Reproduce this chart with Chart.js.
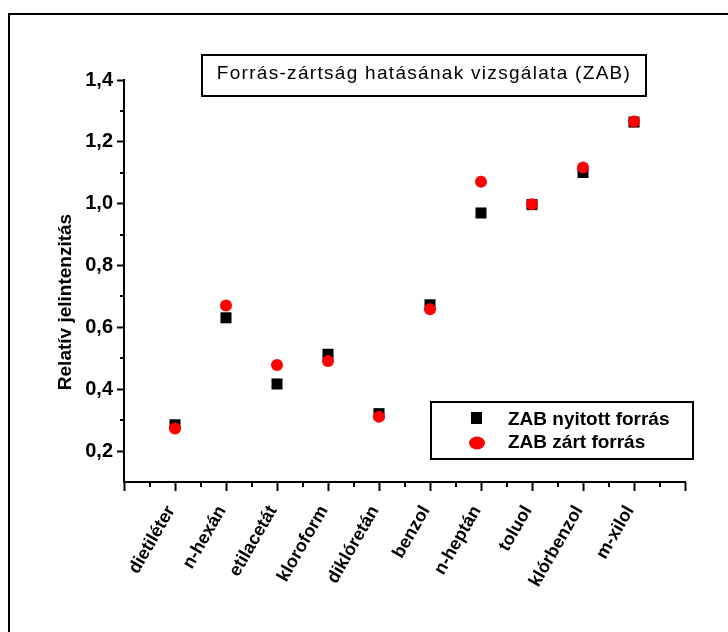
<!DOCTYPE html>
<html>
<head>
<meta charset="utf-8">
<title>Forrás-zártság hatásának vizsgálata (ZAB)</title>
<script src="https://cdn.jsdelivr.net/npm/chart.js@4/dist/chart.umd.min.js"></script>
<style>
  html, body { margin: 0; padding: 0; background: #fff; }
  #zabChart { display: block; }
</style>
</head>
<body>
<canvas id="zabChart" width="728" height="632"></canvas>
<script>
// oldószerek a vízszintes tengelyen
const oldoszerek = ['dietiléter', 'n-hexán', 'etilacetát', 'kloroform', 'diklóretán',
  'benzol', 'n-heptán', 'toluol', 'klórbenzol', 'm-xilol']
// relatív jelintenzitás, nyitott és zárt forrással
const nyitottForras = [0.285, 0.631, 0.417, 0.513, 0.321, 0.673, 0.970, 0.997, 1.101, 1.264]
const zartForras = [0.273, 0.671, 0.478, 0.491, 0.311, 0.659, 1.071, 0.998, 1.117, 1.266]
const sorozatNevek = ['ZAB nyitott forrás', 'ZAB zárt forrás']
const cim = 'Forrás-zártság hatásának vizsgálata (ZAB)'
const yCim = 'Relatív jelintenzitás'
const yMin = 0.1, yMax = 1.4, yLepes = 0.1

Chart.defaults.font.family = '"Liberation Sans", Arial, sans-serif'
Chart.defaults.color = '#000'

const pontok = (ertekek) => ertekek.map((v, i) => ({ x: i + 1, y: v }))
const fo = (v) => Math.round(v * 10) % 2 === 0

// keret, cím, jelmagyarázat és a kis osztásjelek
const keretek = {
  id: 'keretek',
  afterDraw (chart) {
    const ctx = chart.ctx
    const xs = chart.scales.x, ys = chart.scales.y
    ctx.save()
    ctx.strokeStyle = '#000'
    ctx.fillStyle = '#000'

    // kis osztásjelek
    ctx.lineWidth = 2
    ctx.beginPath()
    xs.ticks.forEach(t => {
      if (Number.isInteger(t.value)) return
      const px = Math.round(xs.getPixelForValue(t.value))
      ctx.moveTo(px, xs.top); ctx.lineTo(px, xs.top + 5)
    })
    ys.ticks.forEach(t => {
      if (fo(t.value) || t.value <= yMin + 1e-9) return
      const py = Math.round(ys.getPixelForValue(t.value))
      ctx.moveTo(ys.right, py); ctx.lineTo(ys.right - 4, py)
    })
    ctx.stroke()

    // külső keret
    ctx.beginPath()
    ctx.moveTo(9, chart.height); ctx.lineTo(9, 14); ctx.lineTo(chart.width, 14)
    ctx.stroke()

    // cím doboza
    ctx.strokeRect(202, 55, 444, 41)
    ctx.font = '19px "Liberation Sans", Arial, sans-serif'
    if ('letterSpacing' in ctx) ctx.letterSpacing = '1.3px'
    ctx.textAlign = 'center'
    ctx.textBaseline = 'middle'
    ctx.fillText(cim, 424, 74)
    if ('letterSpacing' in ctx) ctx.letterSpacing = '0px'

    // y tengely felirata
    ctx.save()
    ctx.translate(71, 302)
    ctx.rotate(-Math.PI / 2)
    ctx.font = 'bold 19px "Liberation Sans", Arial, sans-serif'
    ctx.textAlign = 'center'
    ctx.textBaseline = 'alphabetic'
    ctx.fillText(yCim, 0, 0)
    ctx.restore()

    // jelmagyarázat
    ctx.strokeRect(431, 402, 262, 57)
    const ds = chart.data.datasets
    ctx.fillStyle = ds[0].backgroundColor
    ctx.fillRect(471, 412, 11, 12)
    ctx.fillStyle = ds[1].backgroundColor
    ctx.beginPath()
    ctx.ellipse(477, 443, 8, 6.5, 0, 0, Math.PI * 2)
    ctx.fill()
    ctx.fillStyle = '#000'
    ctx.font = 'bold 19px "Liberation Sans", Arial, sans-serif'
    ctx.textAlign = 'left'
    ctx.textBaseline = 'alphabetic'
    ctx.fillText(ds[0].label, 508, 425)
    ctx.fillText(ds[1].label, 508, 448)
    ctx.restore()
  }
}

const ctx = document.getElementById('zabChart')
const zabChart = new Chart(ctx, {
  type: 'scatter',
  data: {
    datasets: [{
      label: sorozatNevek[0],
      data: pontok(nyitottForras),
      pointStyle: 'rect',
      pointRadius: 7.8,
      backgroundColor: '#000000',
      borderWidth: 0,
      order: 1
    }, {
      label: sorozatNevek[1],
      data: pontok(zartForras),
      pointStyle: 'circle',
      pointRadius: 6,
      backgroundColor: '#ff0000',
      borderWidth: 0,
      order: 0
    }]
  },
  options: {
    responsive: false,
    animation: false,
    events: [],
    layout: { padding: { top: 80, right: 43, left: 0, bottom: 0 } },
    plugins: {
      legend: { display: false },
      tooltip: { enabled: false }
    },
    scales: {
      x: {
        type: 'linear',
        min: 0,
        max: oldoszerek.length + 1,
        afterFit (scale) { scale.height = 150 },
        border: { display: true, color: '#000', width: 2 },
        grid: {
          drawOnChartArea: false,
          drawTicks: true,
          tickLength: 9,
          tickWidth: 2,
          tickColor: (c) => c.tick && Number.isInteger(c.tick.value) ? '#000' : 'rgba(0,0,0,0)'
        },
        ticks: {
          stepSize: 0.5,
          autoSkip: false,
          minRotation: 60,
          maxRotation: 60,
          padding: 11,
          labelOffset: -4,
          font: { size: 18, weight: 'bold' },
          callback: (v) => Number.isInteger(v) && v >= 1 && v <= oldoszerek.length ? oldoszerek[v - 1] : ''
        }
      },
      y: {
        min: yMin,
        max: yMax,
        afterFit (scale) { scale.width = 124 },
        border: { display: true, color: '#000', width: 2 },
        grid: {
          drawOnChartArea: false,
          drawTicks: true,
          tickLength: 7,
          tickWidth: 2,
          tickColor: (c) => c.tick && fo(c.tick.value) && c.tick.value > yMin + 1e-9 ? '#000' : 'rgba(0,0,0,0)'
        },
        ticks: {
          stepSize: yLepes,
          autoSkip: false,
          padding: 4,
          font: { size: 20, weight: 'bold' },
          callback: (v) => fo(v) && v > yMin + 1e-9 ? (Math.round(v * 10) / 10).toFixed(1).replace('.', ',') : ''
        }
      }
    }
  },
  plugins: [keretek]
})
</script>
</body>
</html>
